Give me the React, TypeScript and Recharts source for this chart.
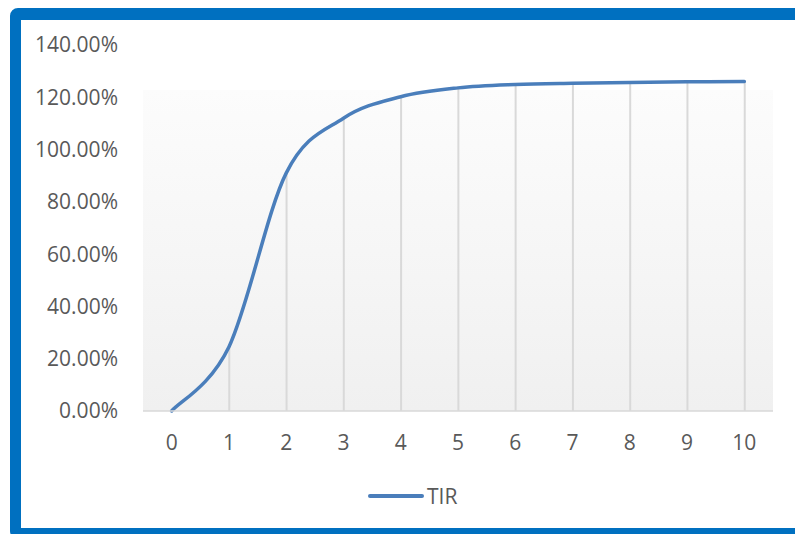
import React from 'react';
import { ComposedChart, Line, Bar, XAxis, YAxis, CartesianGrid, Legend } from 'recharts';

const periods = ['0', '1', '2', '3', '4', '5', '6', '7', '8', '9', '10'];
const tirValues = [0, 0.245, 0.91, 1.12, 1.202, 1.236, 1.249, 1.254, 1.257, 1.259, 1.26];
const yTicks = [0, 0.2, 0.4, 0.6, 0.8, 1.0, 1.2, 1.4];
const seriesName = 'TIR';

const data = periods.map((p, i) => ({ period: p, TIR: tirValues[i], drop: tirValues[i] }));

const FONT = '"Open Sans", sans-serif';
const TEXT = '#595959';
const LINE = '#4A7EBB';

// Excel-like smoothing (uniform Catmull-Rom as cubic Bezier)
const excelSmooth = (context: any) => {
  let pts: [number, number][] = [];
  return {
    areaStart() {},
    areaEnd() {},
    lineStart() {
      pts = [];
    },
    point(x: number, y: number) {
      pts.push([+x, +y]);
    },
    lineEnd() {
      if (!pts.length) return;
      context.moveTo(pts[0][0], pts[0][1]);
      for (let i = 0; i < pts.length - 1; i++) {
        const p0 = pts[i - 1] || pts[i];
        const p1 = pts[i];
        const p2 = pts[i + 1];
        const p3 = pts[i + 2] || pts[i + 1];
        const c1x = p1[0] + (p2[0] - p0[0]) / 6;
        const c1y = p1[1] + (p2[1] - p0[1]) / 6;
        const c2x = p2[0] - (p3[0] - p1[0]) / 6;
        const c2y = p2[1] - (p3[1] - p1[1]) / 6;
        context.bezierCurveTo(c1x, c1y, c2x, c2y, p2[0], p2[1]);
      }
    },
  };
};

const LegendContent = (props: any) => {
  const items = (props.payload || []).filter((e: any) => e.type !== 'none');
  return (
    <div style={{ position: 'relative', width: 795, height: 30 }}>
      {items.map((e: any) => (
        <div key={e.value} style={{ position: 'absolute', left: 368, top: 0, display: 'flex', alignItems: 'center' }}>
          <svg width={56} height={30} style={{ display: 'block' }}>
            <line x1={2} y1={15} x2={54} y2={15} stroke={e.color} strokeWidth={4} strokeLinecap="round" />
          </svg>
          <span style={{ fontFamily: FONT, fontSize: 21, color: TEXT, marginLeft: 3, lineHeight: '30px' }}>{e.value}</span>
        </div>
      ))}
    </div>
  );
};

export default function App() {
  return (
    <div style={{ position: 'fixed', left: 0, top: 0, width: 795, height: 534, overflow: 'hidden', background: '#ffffff' }}>
      <div
        style={{
          position: 'absolute',
          left: 10,
          top: 8,
          width: 880,
          height: 531,
          borderStyle: 'solid',
          borderColor: '#0070C0',
          borderLeftWidth: 11,
          borderTopWidth: 12,
          borderBottomWidth: 11,
          borderRightWidth: 11,
          borderRadius: 8,
          boxSizing: 'border-box',
        }}
      />
      <div style={{ position: 'absolute', left: 0, top: 0, width: 795, height: 534 }}>
        <ComposedChart
          width={795}
          height={534}
          data={data}
          margin={{ top: 45, right: 22, bottom: 83, left: 0 }}
          barCategoryGap={0}
        >
          <defs>
            <linearGradient id="plotBg" x1="0" y1="0" x2="0" y2="1">
              <stop offset="0" stopColor="#ffffff" />
              <stop offset="0.123" stopColor="#ffffff" />
              <stop offset="0.124" stopColor="#fcfcfc" />
              <stop offset="1" stopColor="#f0f0f0" />
            </linearGradient>
          </defs>
          <CartesianGrid horizontal={false} vertical={false} fill="url(#plotBg)" stroke="none" />
          <XAxis
            dataKey="period"
            height={40}
            tickLine={false}
            tickSize={0}
            tickMargin={24}
            axisLine={{ stroke: '#d9d9d9', strokeWidth: 1.5 }}
            tick={{ fill: TEXT, fontSize: 21, fontFamily: FONT }}
            interval={0}
          />
          <YAxis
            width={143}
            domain={[0, 1.4]}
            ticks={yTicks}
            axisLine={false}
            tickLine={false}
            tickSize={0}
            tickMargin={25}
            tickFormatter={(v: number) => (v * 100).toFixed(2) + '%'}
            tick={{ fill: TEXT, fontSize: 21, fontFamily: FONT }}
          />
          <Bar dataKey="drop" barSize={2} fill="#d9d9d9" isAnimationActive={false} legendType="none" />
          <Line
            type={excelSmooth as any}
            dataKey="TIR"
            name={seriesName}
            stroke={LINE}
            strokeWidth={3.5}
            strokeLinecap="round"
            dot={false}
            activeDot={false}
            isAnimationActive={false}
          />
          <Legend
            layout="horizontal"
            verticalAlign="middle"
            align="center"
            wrapperStyle={{ left: 0, top: 481, width: 795 }}
            content={<LegendContent />}
          />
        </ComposedChart>
      </div>
    </div>
  );
}
